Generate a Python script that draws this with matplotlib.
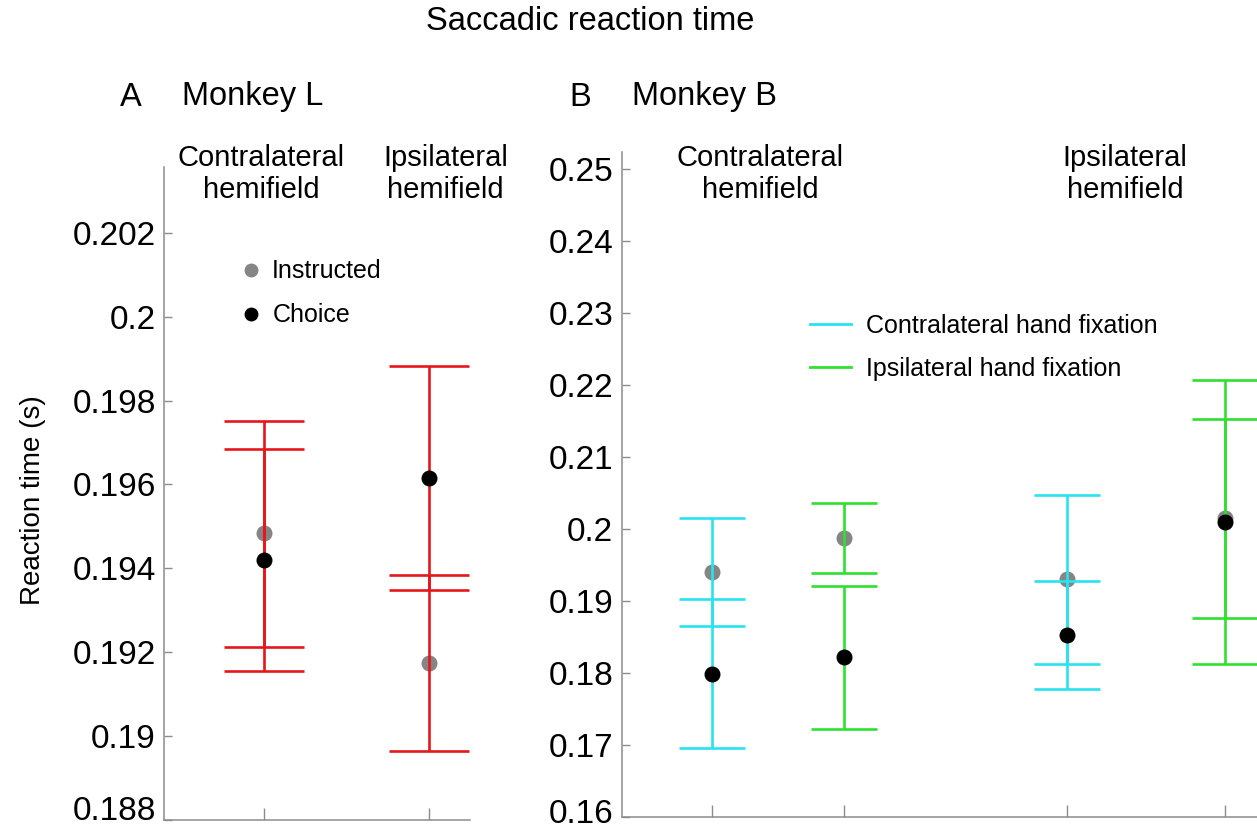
import matplotlib
matplotlib.use('Agg')
import matplotlib.pyplot as plt
import matplotlib.transforms as mtransforms
from matplotlib.lines import Line2D
import numpy as np

plt.rcParams['font.family'] = ['Liberation Sans', 'DejaVu Sans']

# Monkey L: contralateral / ipsilateral hemifield
instr_mean_L = [0.19483, 0.19173]
instr_lo_L = [0.19212, 0.18964]
instr_hi_L = [0.19752, 0.19383]
choice_mean_L = [0.19420, 0.19616]
choice_lo_L = [0.19155, 0.19349]
choice_hi_L = [0.19685, 0.19883]

# Monkey B: (contra hemifield: contra hand, ipsi hand), (ipsi hemifield: contra hand, ipsi hand)
instr_mean_B = [0.19400, 0.19872, 0.19298, 0.20146]
instr_lo_B = [0.18648, 0.19382, 0.18129, 0.18756]
instr_hi_B = [0.20153, 0.20362, 0.20468, 0.21535]
choice_mean_B = [0.17988, 0.18218, 0.18528, 0.20097]
choice_lo_B = [0.16949, 0.17225, 0.17777, 0.18129]
choice_hi_B = [0.19028, 0.19211, 0.19280, 0.22064]

hemifield_labels = ['Contralateral\nhemifield', 'Ipsilateral\nhemifield']
hand_labels = ['Contralateral hand fixation', 'Ipsilateral hand fixation']

red = '#e8161b'
cyan = '#27e3f0'
green = '#2fe02f'
grey = '#858585'
axgrey = '#8c8c8c'

W, H = 1257, 831
fig = plt.figure(figsize=(W / 100, H / 100), dpi=100)


def box(x0, y0, x1, y1):
    # pixel box (top-left origin) -> figure fraction rect
    return [x0 / W, 1 - y1 / H, (x1 - x0) / W, (y1 - y0) / H]


def style(ax):
    for s in ['top', 'right']:
        ax.spines[s].set_visible(False)
    for s in ['left', 'bottom']:
        ax.spines[s].set_color(axgrey)
        ax.spines[s].set_linewidth(1.1)
    ax.tick_params(axis='y', direction='in', length=6, width=1, color=axgrey,
                   labelsize=24, pad=6, labelcolor='black')
    ax.tick_params(axis='x', direction='in', length=9, width=1, color=axgrey,
                   labelbottom=False)
    ax.yaxis.set_major_formatter(plt.FuncFormatter(lambda v, p: f'{v:g}'))
    ax.patch.set_alpha(0)


def lift_lowest(ax, px):
    # push the bottom tick label up so it stays inside the figure
    lab = ax.yaxis.get_major_ticks()[0].label1
    lab.set_transform(lab.get_transform() + mtransforms.ScaledTranslation(0, px / 100, fig.dpi_scale_trans))


def draw(ax, x, im, ilo, ihi, cm, clo, chi, colors, cap):
    x = np.array(x)
    im, ilo, ihi = map(np.array, (im, ilo, ihi))
    cm, clo, chi = map(np.array, (cm, clo, chi))
    ax.plot(x, im, 'o', color=grey, ms=11.5, mec='none', zorder=2)
    for i in range(len(x)):
        ax.errorbar(x[i], im[i], yerr=[[im[i] - ilo[i]], [ihi[i] - im[i]]], fmt='none',
                    ecolor=colors[i], elinewidth=1.9, capsize=cap, capthick=1.9, zorder=3)
        ax.errorbar(x[i], cm[i], yerr=[[cm[i] - clo[i]], [chi[i] - cm[i]]], fmt='none',
                    ecolor=colors[i], elinewidth=1.9, capsize=cap, capthick=1.9, zorder=3)
    ax.plot(x, cm, 'o', color='black', ms=11.5, mec='none', zorder=4)


# Panel A
axA = fig.add_axes(box(164, 166.5, 470, 819.5))
style(axA)
xA = [1, 2]
draw(axA, xA, instr_mean_L, instr_lo_L, instr_hi_L, choice_mean_L, choice_lo_L, choice_hi_L,
     [red, red], 29)
axA.set_xlim(0.392, 2.247)
axA.set_ylim(0.188, 0.20359)
axA.set_yticks(np.arange(0.188, 0.2025, 0.002))
axA.set_xticks(xA)
lift_lowest(axA, 11)

# Panel B (runs past the right edge)
axB = fig.add_axes(box(621.7, 152, 1320, 816.7))
style(axB)
xB = [1, 2, 3.677, 4.873]
draw(axB, xB, instr_mean_B, instr_lo_B, instr_hi_B, choice_mean_B, choice_lo_B, choice_hi_B,
     [cyan, green, cyan, green], 24)
axB.set_xlim(0.3213, 0.3213 + (1320 - 621.7) / 132.6)
axB.set_ylim(0.16, 0.2524)
axB.set_yticks(np.arange(0.16, 0.2505, 0.01))
axB.set_xticks(xB)
lift_lowest(axB, 6)

# texts
fig.text(590 / W, 1 - 22 / H, 'Saccadic reaction time', ha='center', va='center', fontsize=23.5)
fig.text(131 / W, 1 - 97 / H, 'A', ha='center', va='center', fontsize=23.5)
fig.text(182 / W, 1 - 97 / H, 'Monkey L', ha='left', va='center', fontsize=23.5)
fig.text(580 / W, 1 - 97 / H, 'B', ha='center', va='center', fontsize=23.5)
fig.text(632 / W, 1 - 97 / H, 'Monkey B', ha='left', va='center', fontsize=23.5)
fig.text(33 / W, 1 - 500 / H, 'Reaction time (s)', rotation=90, ha='center', va='center', fontsize=20)

for xc, lab in zip([261, 445.5, 760.5, 1125], hemifield_labels * 2):
    fig.text(xc / W, 1 - 174 / H, lab, ha='center', va='center', fontsize=21, linespacing=1.22)

# legends
hA = [Line2D([], [], ls='none', marker='o', color=grey, ms=10, mec='none'),
      Line2D([], [], ls='none', marker='o', color='black', ms=10, mec='none')]
fig.legend(hA, ['Instructed', 'Choice'], loc='center left', bbox_to_anchor=(241 / W, 1 - 293.5 / H),
           frameon=False, fontsize=18, handlelength=0.8, handletextpad=0.45, borderpad=0,
           borderaxespad=0, labelspacing=0.8)
hB = [Line2D([], [], color=cyan, lw=2), Line2D([], [], color=green, lw=2)]
fig.legend(hB, hand_labels, loc='center left', bbox_to_anchor=(810 / W, 1 - 347.5 / H),
           frameon=False, fontsize=18, handlelength=1.64, handletextpad=0.6, borderpad=0,
           borderaxespad=0, labelspacing=0.75)

fig.savefig('out.png', dpi=100)
